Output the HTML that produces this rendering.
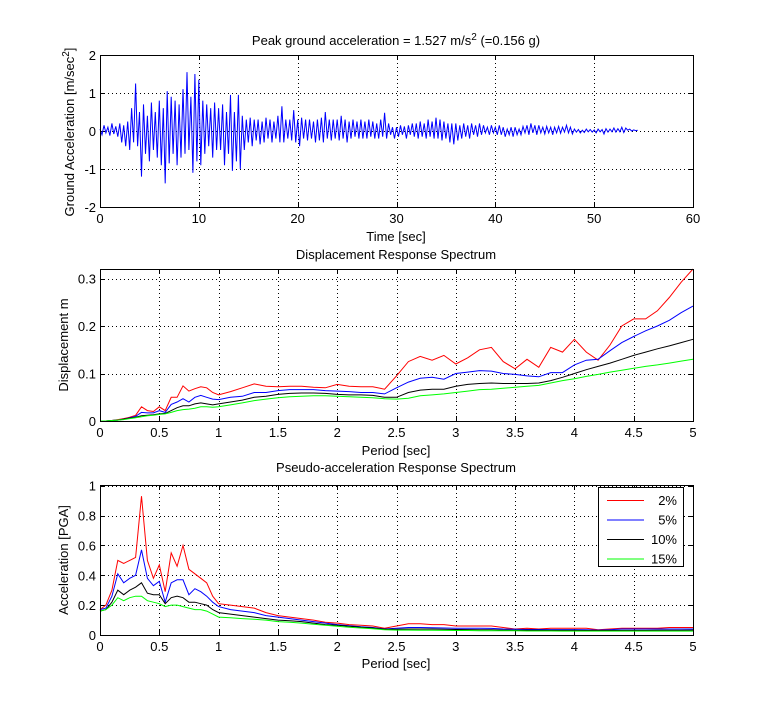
<!DOCTYPE html>
<html><head><meta charset="utf-8">
<style>
html,body{margin:0;padding:0;background:#fff;}
svg{display:block;font-family:"Liberation Sans",Arial,sans-serif;}
text{fill:#000;}
</style></head>
<body>
<svg id="fig" width="766" height="713" viewBox="0 0 766 713"></svg>
<script>
// ---- data ----
const timeStep = 0.2;
const groundAcc = [
0.05,-0.1,0.15,-0.05,0.1,-0.12,0.2,-0.08,0.12,-0.15,
0.2,-0.3,0.15,-0.4,0.25,-0.5,0.6,-0.3,1.25,-0.4,
0.5,-1.2,0.7,-0.6,0.4,-0.8,0.75,-0.5,0.5,-0.7,
0.8,-0.9,0.6,-1.38,1.05,-0.85,0.9,-0.6,0.8,-0.9,
0.7,-0.7,1.1,-0.6,1.55,-0.5,0.9,-1.1,1.5,-0.8,
1.35,-0.9,0.8,-0.6,0.7,-0.4,0.6,-0.7,0.75,-0.5,
0.6,-0.5,0.7,-0.9,0.5,-0.6,0.95,-1.05,0.5,-0.8,
0.95,-1.0,0.4,-0.5,0.3,-0.3,0.35,-0.4,0.3,-0.25,
0.3,-0.35,0.25,-0.3,0.35,-0.2,0.3,-0.3,0.25,-0.2,
0.4,-0.3,0.65,-0.3,0.3,-0.2,0.3,-0.25,0.55,-0.3,
0.3,-0.4,0.35,-0.2,0.3,-0.25,0.3,-0.2,0.25,-0.3,
0.3,-0.25,0.35,-0.3,0.5,-0.2,0.3,-0.25,0.3,-0.2,
0.3,-0.25,0.4,-0.2,0.3,-0.3,0.25,-0.2,0.3,-0.15,
0.25,-0.2,0.3,-0.2,0.25,-0.2,0.3,-0.15,0.25,-0.2,
0.2,-0.2,0.3,-0.15,0.48,-0.2,0.2,-0.1,0.1,-0.2,
0.1,-0.15,0.15,-0.1,0.12,-0.2,0.15,-0.1,0.2,-0.15,
0.2,-0.2,0.25,-0.15,0.2,-0.2,0.3,-0.15,0.25,-0.2,
0.35,-0.2,0.3,-0.25,0.25,-0.2,0.2,-0.3,0.2,-0.35,
0.2,-0.25,0.15,-0.2,0.2,-0.15,0.15,-0.2,0.2,-0.1,
0.15,-0.15,0.2,-0.1,0.15,-0.05,0.1,-0.1,0.15,-0.05,
0.1,-0.1,0.15,-0.1,0.1,-0.15,0.05,-0.1,0.1,-0.15,
0.1,-0.1,0.05,-0.1,0.12,-0.05,0.15,-0.1,0.2,-0.05,
0.15,-0.1,0.15,-0.05,0.1,-0.08,0.12,-0.05,0.1,-0.1,
0.1,-0.05,0.12,-0.06,0.1,-0.03,0.15,-0.05,0.1,-0.08,
0.05,-0.03,0.04,-0.05,0.02,-0.04,0.05,-0.02,0.04,-0.03,
0.03,-0.05,0.05,-0.02,0.04,-0.08,0.06,-0.03,0.05,-0.02,
0.08,-0.03,0.06,-0.02,0.1,-0.04,0.08,0.02,0.05,0.0,
0.03,0.01,0.02];
const periods = [0,0.05,0.1,0.15,0.2,0.25,0.3,0.35,0.4,0.45,0.5,0.55,0.6,0.65,0.7,0.75,0.8,0.85,0.9,0.95,1.0,
1.1,1.2,1.3,1.4,1.5,1.6,1.7,1.8,1.9,2.0,2.1,2.2,2.3,2.4,2.5,2.6,2.7,2.8,2.9,3.0,3.1,3.2,3.3,3.4,3.5,3.6,3.7,3.8,3.9,4.0,4.1,4.2,4.3,4.4,4.5,4.6,4.7,4.8,4.9,5.0];
const disp2 = [0,0,0.001,0.003,0.005,0.008,0.012,0.03,0.022,0.02,0.03,0.022,0.05,0.05,0.074,0.063,0.068,0.072,0.07,0.06,0.055,
0.062,0.07,0.078,0.073,0.072,0.073,0.073,0.071,0.07,0.077,0.073,0.072,0.072,0.067,0.095,0.125,0.136,0.128,0.138,0.12,0.133,0.15,0.155,0.125,0.11,0.13,0.113,0.155,0.145,0.172,0.145,0.128,0.16,0.2,0.215,0.215,0.232,0.26,0.292,0.32];
const disp5 = [0,0,0.001,0.002,0.004,0.007,0.01,0.018,0.017,0.017,0.022,0.018,0.035,0.04,0.047,0.04,0.05,0.054,0.05,0.046,0.045,
0.05,0.052,0.06,0.06,0.064,0.066,0.066,0.066,0.064,0.063,0.062,0.06,0.06,0.057,0.07,0.082,0.09,0.092,0.088,0.1,0.103,0.106,0.105,0.1,0.098,0.095,0.093,0.102,0.102,0.118,0.128,0.13,0.148,0.165,0.178,0.19,0.2,0.212,0.228,0.242];
const disp10 = [0,0,0.001,0.002,0.004,0.006,0.008,0.011,0.012,0.013,0.015,0.016,0.022,0.028,0.032,0.032,0.036,0.038,0.036,0.034,0.036,
0.04,0.044,0.05,0.052,0.056,0.058,0.059,0.059,0.058,0.056,0.055,0.055,0.054,0.05,0.05,0.06,0.065,0.067,0.067,0.073,0.077,0.079,0.08,0.079,0.079,0.079,0.08,0.085,0.092,0.1,0.108,0.115,0.122,0.13,0.138,0.145,0.152,0.158,0.165,0.172];
const disp15 = [0,0,0.001,0.002,0.003,0.005,0.007,0.009,0.011,0.012,0.014,0.015,0.018,0.022,0.024,0.025,0.027,0.03,0.03,0.029,0.03,
0.034,0.038,0.043,0.046,0.049,0.051,0.052,0.053,0.053,0.052,0.051,0.05,0.049,0.047,0.046,0.048,0.053,0.055,0.057,0.06,0.063,0.066,0.067,0.069,0.071,0.073,0.075,0.08,0.085,0.089,0.094,0.098,0.103,0.107,0.111,0.115,0.118,0.122,0.126,0.13];
const psa2 = [0.17,0.2,0.3,0.5,0.48,0.5,0.52,0.93,0.5,0.38,0.47,0.29,0.55,0.46,0.6,0.44,0.41,0.38,0.35,0.26,0.21,
0.2,0.19,0.18,0.15,0.13,0.12,0.11,0.1,0.085,0.08,0.07,0.065,0.06,0.045,0.06,0.075,0.075,0.07,0.07,0.06,0.06,0.06,0.06,0.05,0.04,0.045,0.04,0.045,0.045,0.045,0.045,0.035,0.04,0.045,0.045,0.045,0.045,0.05,0.05,0.05];
const psa5 = [0.17,0.18,0.26,0.41,0.35,0.38,0.4,0.57,0.38,0.33,0.36,0.22,0.35,0.37,0.37,0.27,0.31,0.29,0.26,0.22,0.19,
0.17,0.16,0.15,0.13,0.12,0.11,0.1,0.09,0.08,0.07,0.062,0.055,0.05,0.04,0.045,0.05,0.05,0.048,0.047,0.045,0.045,0.045,0.044,0.04,0.038,0.037,0.037,0.036,0.036,0.036,0.035,0.033,0.035,0.04,0.04,0.04,0.04,0.04,0.04,0.04];
const psa10 = [0.16,0.17,0.22,0.3,0.27,0.3,0.32,0.35,0.28,0.27,0.27,0.21,0.25,0.26,0.25,0.22,0.22,0.21,0.2,0.17,0.15,
0.14,0.13,0.12,0.11,0.1,0.095,0.09,0.08,0.07,0.065,0.058,0.052,0.047,0.038,0.038,0.04,0.04,0.04,0.038,0.037,0.036,0.035,0.035,0.033,0.032,0.032,0.032,0.031,0.031,0.031,0.03,0.03,0.03,0.031,0.031,0.031,0.032,0.032,0.032,0.033];
const psa15 = [0.16,0.17,0.2,0.25,0.23,0.25,0.26,0.26,0.23,0.22,0.21,0.19,0.2,0.2,0.19,0.18,0.17,0.17,0.16,0.14,0.12,
0.115,0.11,0.105,0.1,0.09,0.085,0.08,0.072,0.065,0.058,0.052,0.047,0.042,0.035,0.033,0.033,0.032,0.032,0.031,0.03,0.03,0.029,0.029,0.028,0.028,0.027,0.027,0.027,0.026,0.026,0.026,0.026,0.026,0.026,0.026,0.026,0.026,0.026,0.026,0.026];
const legendLabels = ["2%","5%","10%","15%"];
const seriesColors = ["#ff0000","#0000ff","#000000","#00ff00"];
const timeTicks = [0,10,20,30,40,50,60];
const accTicks = [-2,-1,0,1,2];
const periodTicks = [0,0.5,1,1.5,2,2.5,3,3.5,4,4.5,5];
const dispTicks = [0,0.1,0.2,0.3];
const psaTicks = [0,0.2,0.4,0.6,0.8,1];

// ---- drawing ----
const NS="http://www.w3.org/2000/svg";
const svg=document.getElementById('fig');
const FS=13;
function mk(tag,attrs,parent){const e=document.createElementNS(NS,tag);for(const k in attrs)e.setAttribute(k,attrs[k]);(parent||svg).appendChild(e);return e;}
function txt(x,y,s,anchor,size,parent,rot){const t=mk('text',{x:x,y:y,'text-anchor':anchor||'middle','font-size':size||FS},parent);t.textContent=s;if(rot)t.setAttribute('transform','rotate(-90 '+x+' '+y+')');return t;}

function axes(name,box,xlim,ylim,xt,yt,xfmt,yfmt){
  const g=mk('g',{});
  
  
  const sx=v=>box.x0+(v-xlim[0])/(xlim[1]-xlim[0])*(box.x1-box.x0);
  const sy=v=>box.y1-(v-ylim[0])/(ylim[1]-ylim[0])*(box.y1-box.y0);
  mk('rect',{x:box.x0,y:box.y0,width:box.x1-box.x0,height:box.y1-box.y0,fill:'#fff'},g);
  xt.forEach(v=>{const x=Math.round(sx(v))+0.5;
    if(v!==xlim[0]&&v!==xlim[1]) mk('line',{x1:x,x2:x,y1:box.y0,y2:box.y1,stroke:'#000','stroke-width':1,'stroke-dasharray':'1 3'},g);
    mk('line',{x1:x,x2:x,y1:box.y1,y2:box.y1-5,stroke:'#000'},g);
    mk('line',{x1:x,x2:x,y1:box.y0,y2:box.y0+5,stroke:'#000'},g);
    const t=txt(sx(v),box.y1+16,xfmt(v),'middle',FS,g);
    
    
  });
  yt.forEach(v=>{const y=Math.round(sy(v))+0.5;
    if(v!==ylim[0]&&v!==ylim[1]) mk('line',{x1:box.x0,x2:box.x1,y1:y,y2:y,stroke:'#000','stroke-width':1,'stroke-dasharray':'1 3'},g);
    mk('line',{x1:box.x0,x2:box.x0+5,y1:y,y2:y,stroke:'#000'},g);
    mk('line',{x1:box.x1,x2:box.x1-5,y1:y,y2:y,stroke:'#000'},g);
    const t=txt(box.x0-4,sy(v)+5,yfmt(v),'end',FS,g);
    
    
  });
  return {g,sx,sy,box};
}
function plotLine(ax,xs,ys,color,name){
  const d=ys.map((v,i)=>(i?'L':'M')+ax.sx(xs[i]).toFixed(1)+' '+ax.sy(v).toFixed(1)).join(' ');
  const p=mk('path',{d:d,fill:'none',stroke:color,'stroke-width':1},ax.g);
  
  
}
function frame(ax){const b=ax.box;mk('rect',{x:b.x0+0.5,y:b.y0+0.5,width:b.x1-b.x0,height:b.y1-b.y0,fill:'none',stroke:'#000'},ax.g);}
const fmt=v=>String(v);

// top
const a1=axes('ground-acceleration-axes',{x0:100,x1:693,y0:55,y1:207},[0,60],[-2,2],timeTicks,accTicks,fmt,fmt);
const times=groundAcc.map((v,i)=>i*timeStep);
plotLine(a1,times,groundAcc,'#0000ff','ground-acceleration-line');
frame(a1);
let t=txt(396,45,'','middle',FS);
t.innerHTML='Peak ground acceleration = 1.527 m/s<tspan dy="-5" font-size="10">2</tspan><tspan dy="5"> (=0.156 g)</tspan>';


t=txt(396,241,'Time [sec]');


t=txt(74,132,'','middle',FS,null,true);
t.innerHTML='Ground Acceleration [m/sec<tspan dy="-5" font-size="10">2</tspan><tspan dy="5">]</tspan>';



// middle
const a2=axes('displacement-axes',{x0:100,x1:693,y0:269,y1:421},[0,5],[0,0.32],periodTicks,dispTicks,fmt,fmt);
[disp2,disp5,disp10,disp15].forEach((s,i)=>plotLine(a2,periods,s,seriesColors[i],'displacement-line-'+legendLabels[i].replace('%','pct')));
frame(a2);
t=txt(396,259,'Displacement Response Spectrum');


t=txt(396,455,'Period [sec]');


t=txt(68,345,'Displacement m','middle',FS,null,true);



// bottom
const a3=axes('pseudo-acceleration-axes',{x0:100,x1:693,y0:485,y1:635},[0,5],[0,1.005],periodTicks,psaTicks,fmt,fmt);
[psa2,psa5,psa10,psa15].forEach((s,i)=>plotLine(a3,periods,s,seriesColors[i],'psa-line-'+legendLabels[i].replace('%','pct')));
frame(a3);
t=txt(396,472,'Pseudo-acceleration Response Spectrum');


t=txt(396,668,'Period [sec]');


t=txt(68,560,'Acceleration [PGA]','middle',FS,null,true);



// legend
const lg=mk('g',{});


mk('rect',{x:598.5,y:487.5,width:85,height:79,fill:'#fff',stroke:'#000'},lg);
legendLabels.forEach((lab,i)=>{
  const y=500+i*19.5;
  const e=mk('g',{},lg);
  
  
  mk('line',{x1:607,x2:644,y1:y+0.5,y2:y+0.5,stroke:seriesColors[i]},e);
  txt(677,y+5,lab,'end',FS,e);
});
</script>
</body></html>
